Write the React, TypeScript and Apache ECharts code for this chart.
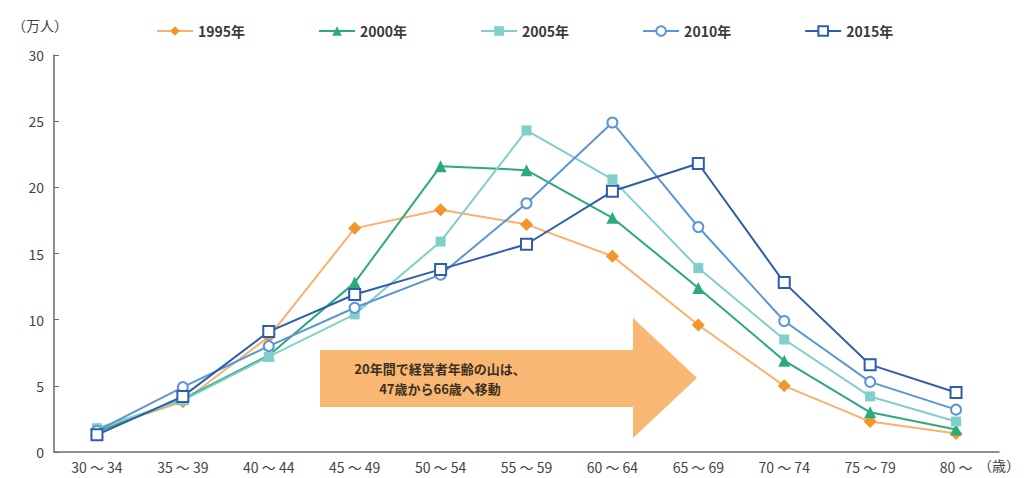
import React, { useEffect, useRef } from "react";
import * as echarts from "echarts";

const categories = ["30 ～ 34", "35 ～ 39", "40 ～ 44", "45 ～ 49", "50 ～ 54", "55 ～ 59", "60 ～ 64", "65 ～ 69", "70 ～ 74", "75 ～ 79", "80 ～"];
const s1995 = [1.7, 3.8, 8.7, 16.9, 18.3, 17.2, 14.8, 9.6, 5.0, 2.3, 1.4];
const s2000 = [1.5, 4.0, 7.3, 12.8, 21.6, 21.3, 17.7, 12.4, 6.9, 3.0, 1.7];
const s2005 = [1.8, 3.9, 7.2, 10.4, 15.9, 24.3, 20.6, 13.9, 8.5, 4.2, 2.3];
const s2010 = [1.6, 4.9, 8.0, 10.9, 13.4, 18.8, 24.9, 17.0, 9.9, 5.3, 3.2];
const s2015 = [1.3, 4.2, 9.1, 11.9, 13.8, 15.7, 19.7, 21.8, 12.8, 6.6, 4.5];
const seriesNames = ["1995年", "2000年", "2005年", "2010年", "2015年"];
const yTicks = [0, 5, 10, 15, 20, 25, 30];

const FONT = "'Noto Sans CJK JP', 'Noto Sans', sans-serif";

export default function App() {
  const ref = useRef<HTMLDivElement>(null);
  useEffect(() => {
    if (!ref.current) return;
    const chart = echarts.init(ref.current, undefined, { renderer: "svg" });
    const mk = (name: string, data: number[], lineColor: string, markColor: string, symbol: string, size: number, empty: boolean) => ({
      name,
      type: "line",
      data,
      symbol,
      symbolSize: size,
      showAllSymbol: true,
      lineStyle: { color: lineColor, width: 2 },
      itemStyle: empty
        ? { color: "#ffffff", borderColor: markColor, borderWidth: 2 }
        : { color: markColor, borderColor: markColor, borderWidth: 0 },
      color: markColor,
    });
    chart.setOption({
      animation: false,
      textStyle: { fontFamily: FONT },
      grid: { left: 54, right: 25, top: 55, bottom: 26, containLabel: false },
      legend: {
        top: 19,
        left: 151,
        itemWidth: 36,
        itemHeight: 12,
        itemGap: 73,
        textStyle: { fontSize: 14, fontWeight: "bold", color: "#3a3a3a", fontFamily: FONT },
        data: seriesNames,
      },
      xAxis: {
        type: "category",
        data: categories,
        boundaryGap: true,
        axisLine: { lineStyle: { color: "#6a6a6a", width: 1.5 } },
        axisTick: { inside: true, length: 5, lineStyle: { color: "#6a6a6a" } },
        axisLabel: { color: "#444", fontSize: 14, margin: 8, fontFamily: FONT },
      },
      yAxis: {
        type: "value",
        min: 0,
        max: 30,
        interval: 5,
        splitLine: { show: false },
        axisLine: { show: true, lineStyle: { color: "#6a6a6a", width: 1.5 } },
        axisTick: { show: true, inside: true, length: 5, lineStyle: { color: "#6a6a6a" } },
        axisLabel: { color: "#444", fontSize: 14, margin: 10, fontFamily: FONT, customValues: yTicks },
      },
      graphic: [
        { type: "text", left: 12, top: 18, style: { text: "（万人）", fontSize: 14, fill: "#444", fontFamily: FONT } },
        { type: "text", left: 978, top: 458, style: { text: "（歳）", fontSize: 14, fill: "#444", fontFamily: FONT } },
        {
          type: "polygon",
          shape: { points: [[320, 350], [633, 350], [633, 318], [697, 378], [633, 438], [633, 407], [320, 407]] },
          style: { fill: "#F9B774" },
          z: 10,
        },
        {
          type: "text",
          x: 440,
          y: 378,
          z: 11,
          style: {
            text: "20年間で経営者年齢の山は、\n47歳から66歳へ移動",
            fontSize: 13,
            fontWeight: "bold",
            fill: "#3a3020",
            align: "center",
            verticalAlign: "middle",
            lineHeight: 20,
            fontFamily: FONT,
          },
        },
      ],
      series: [
        mk(seriesNames[0], s1995, "#F9B26B", "#F3952B", "diamond", 13, false),
        mk(seriesNames[1], s2000, "#2BAA7E", "#2BAA7E", "triangle", 12, false),
        mk(seriesNames[2], s2005, "#7FD0CB", "#7FD0CB", "rect", 10, false),
        mk(seriesNames[3], s2010, "#5A96D6", "#5A96D6", "circle", 10, true),
        mk(seriesNames[4], s2015, "#2F5DAE", "#2F5DAE", "rect", 11, true),
      ],
    });
    return () => chart.dispose();
  }, []);
  return <div ref={ref} style={{ width: 1024, height: 478, position: "absolute", left: 0, top: 0 }} />;
}
